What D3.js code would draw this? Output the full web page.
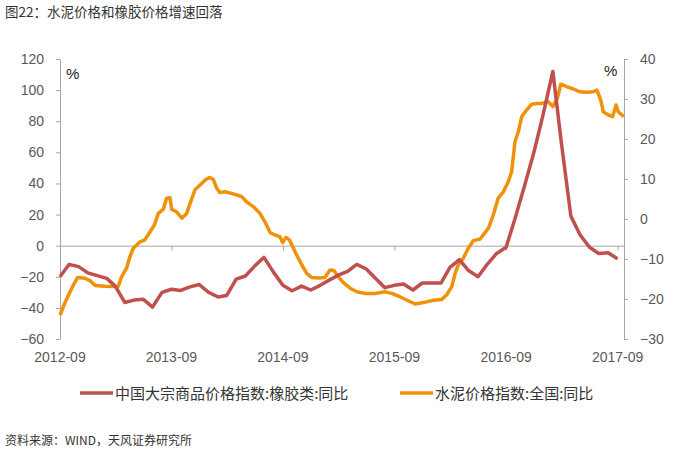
<!DOCTYPE html>
<html><head><meta charset="utf-8">
<script src="https://cdn.jsdelivr.net/npm/d3@7"></script>
<style>
html,body{margin:0;padding:0;background:#fff;}
svg{display:block;font-family:"Liberation Sans","Noto Sans CJK SC",sans-serif;}
</style></head>
<body><svg id="c" width="673" height="451"></svg>
<script>
// ---- data ----
const title = "图22：水泥价格和橡胶价格增速回落";
const source = "资料来源：WIND，天风证券研究所";
const seriesNames = ["中国大宗商品价格指数:橡胶类:同比", "水泥价格指数:全国:同比"];
const xTickLabels = ["2012-09","2013-09","2014-09","2015-09","2016-09","2017-09"];
const leftTicks = [120,100,80,60,40,20,0,-20,-40,-60];
const rightTicks = [40,30,20,10,0,-10,-20,-30];

// rubber price index YoY, monthly 2012-09 .. 2017-09 (left axis)
const rubberMonths = d3.range(61).map(i => d3.timeFormat("%Y-%m")(d3.timeMonth.offset(new Date(2012,8,1), i)));
const rubberValues = [-20,-12,-13.5,-17.5,-19.3,-21,-26,-36.5,-35,-34.5,-39.5,-30,-28,-28.8,-26.5,-25,
  -30,-33,-32,-21.5,-19.5,-13,-7.5,-17,-25.5,-29,-26,-28.5,-25.5,-22,-19,-16.5,
  -12,-15,-21,-27,-25.5,-24.6,-28.5,-24,-24,-24,-14,-9,-16,-20,-12,-5,-1,18,39,60,85,112,66,19,7,-1,-5,-4.5,-8.5];

// cement price index YoY (right axis)
const cementDates = ["2012-09-01","2012-09-17","2012-10-04","2012-10-15","2012-10-29","2012-11-22","2012-12-08","2012-12-25",
 "2013-01-26","2013-02-23","2013-03-11","2013-03-22","2013-04-07","2013-04-18","2013-04-29","2013-05-21","2013-06-06",
 "2013-06-23","2013-07-07","2013-07-20","2013-08-05","2013-08-16","2013-08-27","2013-09-02","2013-09-18","2013-10-05",
 "2013-10-21","2013-11-01","2013-11-17","2013-12-09","2013-12-20","2014-01-05","2014-01-16","2014-01-27","2014-02-07",
 "2014-02-23","2014-03-17","2014-04-03","2014-04-19","2014-05-05","2014-05-27","2014-06-18","2014-07-04","2014-07-21",
 "2014-08-06","2014-08-22","2014-08-31","2014-09-11","2014-09-22","2014-10-03","2014-10-16","2014-11-02","2014-11-18",
 "2014-12-04","2014-12-26","2015-01-17","2015-02-02","2015-02-15","2015-03-01","2015-03-18","2015-04-09","2015-05-01",
 "2015-05-28","2015-06-30","2015-08-01","2015-08-23","2015-09-14","2015-10-11","2015-11-08","2015-12-05","2016-01-01",
 "2016-02-03","2016-02-19","2016-03-07","2016-03-18","2016-03-28","2016-04-14","2016-04-30","2016-05-17","2016-06-08",
 "2016-06-22","2016-07-05","2016-07-21","2016-08-06","2016-08-23","2016-09-08","2016-09-19","2016-09-30","2016-10-11",
 "2016-10-22","2016-11-07","2016-11-24","2016-12-10","2016-12-27","2017-01-17","2017-02-01","2017-02-16","2017-02-27",
 "2017-03-18","2017-04-09","2017-05-01","2017-05-23","2017-06-14","2017-06-25","2017-07-08","2017-07-16","2017-08-02",
 "2017-08-16","2017-08-27","2017-09-03","2017-09-22"];
const cementValues = [-24,-21,-18.2,-16.5,-14.6,-14.8,-15.4,-16.6,
 -16.8,-16.9,-16.8,-14.4,-12.3,-9.4,-7.3,-5.7,-5.2,
 -3.2,-1.5,1.4,2.4,5.2,5.3,2.4,1.8,0.2,
 1.4,3.9,7.3,8.9,9.75,10.4,9.9,7.7,6.6,
 6.8,6.4,6,5.6,4.3,3.1,1.4,-0.7,-3.4,
 -4,-4.4,-5.9,-4.6,-5.2,-6.9,-9,-11.5,-13.6,
 -14.6,-14.75,-14.6,-12.75,-12.9,-14.4,-15.9,-17.3,-18.2,
 -18.6,-18.6,-18.2,-18.6,-19.25,-20.25,-21.25,-20.9,-20.4,
 -20.1,-19,-16.9,-13.6,-11.5,-9.8,-7.3,-5.4,-5,
 -3.6,-2.3,1,5.2,6.8,9.3,11.8,19.3,21.8,
 25.6,27.25,28.7,28.9,28.9,29.3,28.1,30.2,33.7,
 33.1,32.5,31.8,31.7,31.8,32.25,29.75,26.8,26,
 25.6,28.5,26.8,25.6];

const colors = ["#C0504D", "#F0910A"];

// ---- chart ----
const svg = d3.select("#c");
const parseM = d3.timeParse("%Y-%m"), parseD = d3.timeParse("%Y-%m-%d");
const x = d3.scaleTime().domain([parseD("2012-09-01"), parseD("2017-09-22")]).range([60, 624]);
const yL = d3.scaleLinear().domain([-60, 120]).range([339, 59]);
const yR = d3.scaleLinear().domain([-30, 40]).range([339, 59]);
const axisColor = "#A6A6A6", textColor = "#595959";

svg.append("text").attr("x", 5).attr("y", 17).attr("font-size", 13.5).attr("fill", "#333")
  .attr("font-family", "'Noto Sans CJK SC',sans-serif").text(title);

// left axis
const gL = svg.append("g").attr("transform", "translate(60,0)")
  .call(d3.axisLeft(yL).tickValues(leftTicks).tickSize(4).tickPadding(12).tickSizeOuter(0));
gL.selectAll("path,line").attr("stroke", axisColor);
gL.selectAll("text").attr("font-size", 14).attr("fill", textColor).attr("font-family", "'Liberation Sans',sans-serif");

// right axis
const gR = svg.append("g").attr("transform", "translate(624,0)")
  .call(d3.axisRight(yR).tickValues(rightTicks).tickSize(4).tickPadding(12).tickSizeOuter(0));
gR.selectAll("path,line").attr("stroke", axisColor);
gR.selectAll("text").attr("font-size", 14).attr("fill", textColor).attr("font-family", "'Liberation Sans',sans-serif");

// x axis at zero of left axis
const xTicks = xTickLabels.map(parseM);
const gX = svg.append("g").attr("transform", `translate(0,${yL(0)})`)
  .call(d3.axisBottom(x).tickValues(xTicks).tickSize(5).tickSizeOuter(0).tickFormat(""));
gX.selectAll("path,line").attr("stroke", axisColor);
svg.append("g").selectAll("text").data(xTicks).join("text")
  .attr("x", d => x(d)).attr("y", 362).attr("text-anchor", "middle")
  .attr("font-size", 14).attr("fill", textColor).attr("font-family", "'Liberation Sans',sans-serif")
  .text((d, i) => xTickLabels[i]);

// % labels
svg.append("text").attr("x", 66).attr("y", 79).attr("font-size", 15).attr("fill", "#222").text("%");
svg.append("text").attr("x", 604).attr("y", 76).attr("font-size", 15).attr("fill", "#222").text("%");

// lines
const rubber = rubberMonths.map((m, i) => ({d: parseM(m), v: rubberValues[i]}));
const cement = cementDates.map((m, i) => ({d: parseD(m), v: cementValues[i]}));
svg.append("path").datum(cement).attr("fill", "none").attr("stroke", colors[1]).attr("stroke-width", 3.5)
  .attr("stroke-linejoin", "round")
  .attr("d", d3.line().x(p => x(p.d)).y(p => yR(p.v)));
svg.append("path").datum(rubber).attr("fill", "none").attr("stroke", colors[0]).attr("stroke-width", 3.5)
  .attr("stroke-linejoin", "round")
  .attr("d", d3.line().x(p => x(p.d)).y(p => yL(p.v)));

// legend
const legendX = [80, 400];
seriesNames.forEach((name, i) => {
  svg.append("line").attr("x1", legendX[i]).attr("x2", legendX[i] + 33).attr("y1", 393).attr("y2", 393)
    .attr("stroke", colors[i]).attr("stroke-width", 3.5);
  svg.append("text").attr("x", legendX[i] + 35).attr("y", 399).attr("font-size", 15).attr("fill", "#333")
    .attr("font-family", "'Noto Sans CJK SC',sans-serif").text(name);
});

svg.append("text").attr("x", 5).attr("y", 445).attr("font-size", 12).attr("fill", "#333")
  .attr("font-family", "'Noto Sans CJK SC',sans-serif").text(source);
</script></body></html>
